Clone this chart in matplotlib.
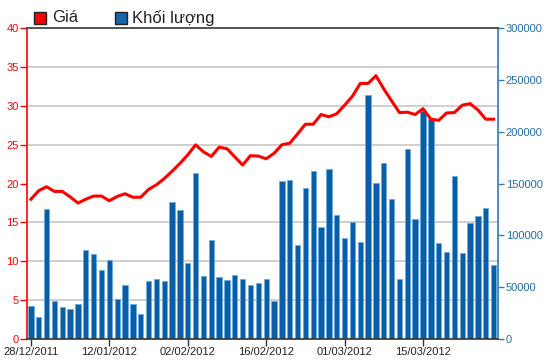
import matplotlib
matplotlib.use("Agg")
import matplotlib.pyplot as plt
from matplotlib.patches import Rectangle
from matplotlib.ticker import MultipleLocator
import numpy as np

plt.rcParams['font.family'] = ['Liberation Sans', 'DejaVu Sans']

x_labels = ['28/12/2011', '12/01/2012', '02/02/2012', '16/02/2012', '01/03/2012', '15/03/2012']

volume = [32000, 20900, 125100, 36650, 30550, 28900, 34070, 85850, 82000, 66560,
          75900, 38900, 51770, 34070, 24440, 55630, 58200, 55630, 132460, 124100,
          73300, 160100, 60450, 95500, 59500, 56900, 61400, 58200, 51770, 54340,
          57900, 36650, 152700, 154000, 90350, 146000, 162400, 108350, 163700, 119300,
          97400, 112900, 93900, 235700, 150200, 169500, 134700, 57900, 183900, 115400,
          220300, 212900, 92900, 84200, 157500, 83250, 112200, 118300, 126400, 71100]

price = [18.0, 19.1, 19.6, 19.0, 19.0, 18.3, 17.5, 18.0, 18.4, 18.4,
         17.8, 18.35, 18.7, 18.25, 18.25, 19.25, 19.85, 20.65, 21.6, 22.6,
         23.7, 25.0, 24.1, 23.5, 24.7, 24.5, 23.45, 22.4, 23.6, 23.55,
         23.2, 23.9, 25.0, 25.2, 26.4, 27.65, 27.65, 28.9, 28.6, 29.0,
         30.1, 31.25, 32.9, 32.9, 33.9, 32.2, 30.65, 29.15, 29.2, 28.9,
         29.65, 28.3, 28.15, 29.1, 29.15, 30.1, 30.3, 29.5, 28.3, 28.3]

legend_labels = ['Giá', 'Khối lượng']

RED = '#ff0000'
BLUE_AX = '#2a7db8'
BAR = '#0a5ea8'
BAR_EDGE = '#6aaee0'

fig = plt.figure(figsize=(5.5, 3.64), dpi=100)
ax_p = fig.add_axes([27/550, 1-339/364, (497.5-27)/550, (339-28.3)/364])
ax_v = ax_p.twinx()

x = np.arange(len(volume))

# volume bars on right axis
ax_v.bar(x, volume, width=0.68, color=BAR, edgecolor=BAR_EDGE, linewidth=0.6, zorder=3)
ax_v.set_ylim(0, 300000)
ax_v.yaxis.set_major_locator(MultipleLocator(50000))
ax_v.yaxis.set_minor_locator(MultipleLocator(37500))
ax_v.grid(which='minor', axis='y', color='#cccccc', linewidth=1.3, zorder=0)
ax_v.set_axisbelow(True)
ax_v.tick_params(axis='y', which='major', colors=BLUE_AX, labelcolor='#1f6fa8',
                 length=4, width=1, labelsize=8, pad=2)
ax_v.tick_params(axis='y', which='minor', length=0)

# price line on left axis
ax_p.set_zorder(ax_v.get_zorder() + 1)
ax_p.patch.set_visible(False)
ax_p.plot(x, price, color=RED, linewidth=2.2, solid_joinstyle='round', zorder=5)
ax_p.set_ylim(0, 40)
ax_p.set_xlim(-0.5, len(volume) - 0.5)
ax_p.yaxis.set_major_locator(MultipleLocator(5))
ax_p.tick_params(axis='y', colors=RED, labelcolor=RED, length=5, width=1, labelsize=8, pad=1)

ax_p.set_xticks(np.arange(0, len(volume), 10))
ax_p.set_xticklabels(x_labels)
ax_p.tick_params(axis='x', colors='#333333', labelcolor='#222222', length=5, width=1,
                 labelsize=8, pad=1)

for a in (ax_p, ax_v):
    for s in a.spines.values():
        s.set_visible(False)
ax_p.spines['left'].set_visible(True)
ax_p.spines['left'].set_color(RED)
ax_p.spines['left'].set_linewidth(1.2)
ax_p.spines['top'].set_visible(True)
ax_p.spines['top'].set_color('#444444')
ax_p.spines['top'].set_linewidth(1.3)
ax_p.spines['bottom'].set_visible(True)
ax_p.spines['bottom'].set_color('#333333')
ax_p.spines['bottom'].set_linewidth(1.2)
ax_v.spines['right'].set_visible(True)
ax_v.spines['right'].set_color(BLUE_AX)
ax_v.spines['right'].set_linewidth(1.2)

# legend
for (sx, col, lab, tx) in [(34, RED, legend_labels[0], 52), (115, '#1466a8', legend_labels[1], 132)]:
    fig.patches.append(Rectangle((sx/550, 1-24/364), 12/550, 12/364, transform=fig.transFigure,
                                 facecolor=col, edgecolor='#222222', linewidth=1.0))
    fig.text(tx/550, 1-18/364, lab, fontsize=12, color='#222222', va='center', ha='left')

fig.savefig('out.png', dpi=100)
